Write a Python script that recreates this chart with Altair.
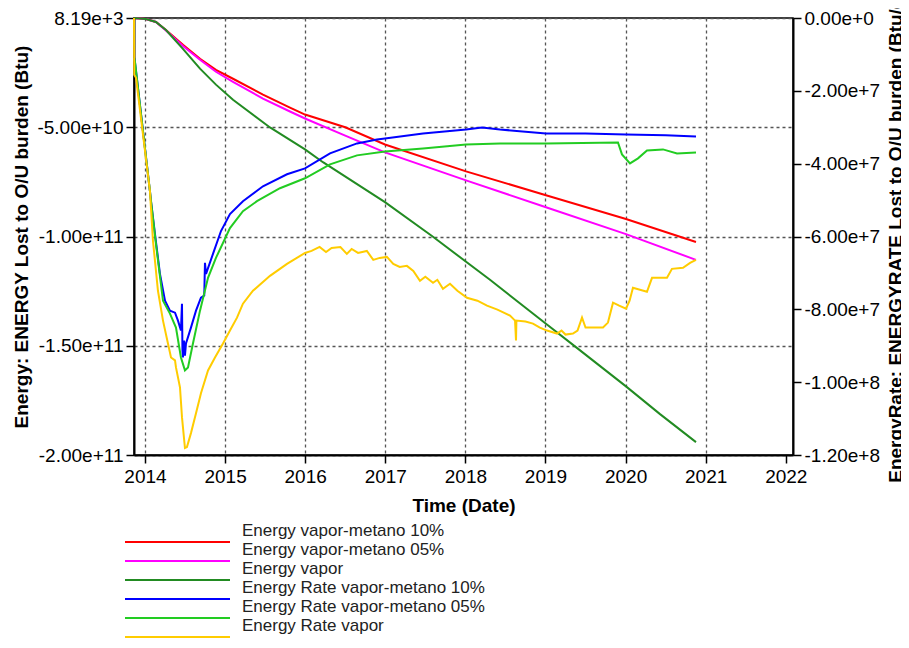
import altair as alt
import pandas as pd

FONT = "Liberation Sans"

names = [
    "Energy vapor-metano 10%",
    "Energy vapor-metano 05%",
    "Energy vapor",
    "Energy Rate vapor-metano 10%",
    "Energy Rate vapor-metano 05%",
    "Energy Rate vapor",
]
colors = ["#ff0000", "#ff00ff", "#228b22", "#0000ff", "#22cc22", "#ffcc00"]

# ---- cumulative energy (left axis, Btu), time in decimal years ----
red_t = [2013.863, 2014.012, 2014.137, 2014.262, 2014.474, 2014.687, 2014.886, 2015.099,
         2015.473, 2015.810, 2015.998, 2016.5, 2016.996, 2018.008, 2019.006, 2020.005, 2020.879]
red_v = [8190, -4.6e8, -1.8e9, -5.47e9, -1.23e10, -1.87e10, -2.37e10, -2.78e10,
         -3.51e10, -4.10e10, -4.42e10, -5.0e10, -5.79e10, -7.02e10, -8.11e10, -9.20e10, -1.025e11]

mag_t = [2013.863, 2014.012, 2014.137, 2014.262, 2014.474, 2014.687, 2014.886, 2015.099,
         2015.473, 2015.810, 2015.998, 2016.5, 2016.996, 2018.008, 2019.006, 2020.005, 2020.879]
mag_v = [8190, -4.6e8, -1.8e9, -5.69e9, -1.28e10, -1.91e10, -2.46e10, -2.92e10,
         -3.69e10, -4.28e10, -4.60e10, -5.38e10, -6.15e10, -7.43e10, -8.66e10, -9.89e10, -1.107e11]

dg_t = [2013.863, 2014.012, 2014.137, 2014.262, 2014.474, 2014.687, 2014.886, 2015.099,
        2015.561, 2015.998, 2016.222, 2016.996, 2017.583, 2018.307, 2019.006, 2019.368,
        2020.005, 2020.430, 2020.879]
dg_v = [8190, -4.6e8, -1.8e9, -5.5e9, -1.41e10, -2.32e10, -3.05e10, -3.74e10,
        -5.01e10, -6.01e10, -6.60e10, -8.43e10, -9.98e10, -1.198e11, -1.399e11, -1.503e11,
        -1.686e11, -1.813e11, -1.941e11]

# ---- energy rate (right axis, Btu/d) ----
blue_t = [2013.866, 2013.875, 2014.062, 2014.075, 2014.125, 2014.187, 2014.250, 2014.312,
          2014.375, 2014.412, 2014.449, 2014.462, 2014.468, 2014.474, 2014.487, 2014.499,
          2014.512, 2014.574, 2014.637, 2014.699, 2014.740, 2014.749, 2014.762, 2014.849,
          2014.949, 2015.061, 2015.223, 2015.473, 2015.773, 2015.998, 2016.310, 2016.647,
          2016.896, 2016.996, 2017.471, 2018.008, 2018.207, 2018.432, 2019.006, 2019.5,
          2020.005, 2020.5, 2020.879]
blue_v = [-1.10e7, -1.203e7, -4.756e7, -5.030e7, -5.932e7, -7.025e7, -7.763e7, -8.036e7,
          -8.091e7, -8.310e7, -8.583e7, -7.845e7, -9.13e7, -9.321e7, -8.857e7, -9.27e7,
          -8.939e7, -8.501e7, -8.036e7, -7.681e7, -7.62e7, -6.724e7, -7.025e7, -6.478e7,
          -5.850e7, -5.385e7, -5.030e7, -4.620e7, -4.292e7, -4.128e7, -3.718e7, -3.444e7,
          -3.335e7, -3.308e7, -3.171e7, -3.062e7, -3.007e7, -3.062e7, -3.171e7, -3.17e7,
          -3.198e7, -3.22e7, -3.253e7]

lg_t = [2013.866, 2013.875, 2014.062, 2014.075, 2014.137, 2014.225, 2014.312, 2014.387,
        2014.449, 2014.499, 2014.537, 2014.599, 2014.687, 2014.787, 2014.886, 2015.061,
        2015.223, 2015.398, 2015.685, 2015.998, 2016.310, 2016.647, 2016.996, 2017.471,
        2018.008, 2018.432, 2019.006, 2019.905, 2019.955, 2020.055, 2020.155, 2020.267,
        2020.467, 2020.642, 2020.879]
lg_v = [-1.10e7, -1.203e7, -4.756e7, -5.030e7, -6.205e7, -7.763e7, -8.118e7, -8.501e7,
        -9.321e7, -9.677e7, -9.595e7, -8.939e7, -8.036e7, -7.134e7, -6.588e7, -5.768e7,
        -5.303e7, -5.030e7, -4.674e7, -4.401e7, -4.018e7, -3.772e7, -3.663e7, -3.581e7,
        -3.471e7, -3.444e7, -3.444e7, -3.417e7, -3.745e7, -3.991e7, -3.854e7, -3.636e7,
        -3.608e7, -3.718e7, -3.690e7]

yel_t = [2013.863, 2013.866, 2013.888, 2014.062, 2014.100, 2014.162, 2014.225, 2014.287,
         2014.325, 2014.375, 2014.387, 2014.437, 2014.462, 2014.499, 2014.524, 2014.574,
         2014.637, 2014.699, 2014.787, 2014.874, 2014.974, 2015.061, 2015.149, 2015.223,
         2015.348, 2015.561, 2015.773, 2015.998, 2016.08, 2016.18, 2016.26, 2016.33,
         2016.44, 2016.52, 2016.58, 2016.66, 2016.77, 2016.85, 2016.93, 2017.02,
         2017.10, 2017.18, 2017.27, 2017.35, 2017.433, 2017.50, 2017.596, 2017.65,
         2017.720, 2017.808, 2017.9, 2018.020, 2018.15, 2018.270, 2018.4, 2018.557,
         2018.62, 2018.632, 2018.637, 2018.75, 2018.844, 2018.93, 2019.019, 2019.144,
         2019.2, 2019.25, 2019.343, 2019.40, 2019.456, 2019.50, 2019.556, 2019.718,
         2019.78, 2019.843, 2019.92, 2020.005, 2020.05, 2020.092, 2020.267, 2020.33,
         2020.517, 2020.579, 2020.717, 2020.805, 2020.879]
yel_v = [0, -1.56e7, -1.640e7, -4.756e7, -6.123e7, -7.490e7, -8.310e7, -8.939e7,
         -9.321e7, -9.403e7, -9.595e7, -1.0141e8, -1.0961e8, -1.1809e8, -1.1781e8, -1.1399e8,
         -1.0852e8, -1.0305e8, -9.677e7, -9.321e7, -8.939e7, -8.583e7, -8.228e7, -7.845e7,
         -7.490e7, -7.080e7, -6.752e7, -6.451e7, -6.396e7, -6.287e7, -6.424e7, -6.314e7,
         -6.287e7, -6.478e7, -6.342e7, -6.451e7, -6.396e7, -6.642e7, -6.588e7, -6.560e7,
         -6.752e7, -6.834e7, -6.806e7, -6.943e7, -7.216e7, -7.107e7, -7.271e7, -7.189e7,
         -7.435e7, -7.298e7, -7.490e7, -7.681e7, -7.763e7, -7.900e7, -8.009e7, -8.173e7,
         -8.310e7, -8.857e7, -8.310e7, -8.337e7, -8.392e7, -8.501e7, -8.583e7, -8.665e7,
         -8.583e7, -8.693e7, -8.665e7, -8.583e7, -8.228e7, -8.501e7, -8.501e7, -8.501e7,
         -8.364e7, -7.818e7, -7.900e7, -7.982e7, -7.763e7, -7.408e7, -7.517e7, -7.134e7,
         -7.134e7, -6.888e7, -6.861e7, -6.724e7, -6.642e7]

left_ticks = [8190, -5e10, -1e11, -1.5e11, -2e11]
right_ticks = [0, -2e7, -4e7, -6e7, -8e7, -1e8, -1.2e8]
year_ticks = [2014, 2015, 2016, 2017, 2018, 2019, 2020, 2021, 2022]


def frame(name, t, v):
    return pd.DataFrame({"t": t, "v": v, "series": name})


energy = pd.concat([frame(names[0], red_t, red_v),
                    frame(names[1], mag_t, mag_v),
                    frame(names[2], dg_t, dg_v)])
rate = pd.concat([frame(names[3], blue_t, blue_v),
                  frame(names[4], lg_t, lg_v),
                  frame(names[5], yel_t, yel_v)])
legend_df = pd.DataFrame({"idx": list(range(6)), "name": names, "col": colors})

fmt = "replace(format(datum.value, '.2e'), '\u2212', '-')"

color = alt.Color("series:N", scale=alt.Scale(domain=names, range=colors), legend=None)

x_axis = alt.Axis(values=year_ticks, format="d", title="Time (Date)", grid=True,
                  gridDash=[3, 3], gridColor="#555555", gridWidth=1.3,
                  gridOpacity={"condition": {"test": "datum.value > 2021.5", "value": 0}, "value": 1},
                  labelPadding=4, titlePadding=10)
x_scale = alt.Scale(domain=[2013.863, 2022.09], nice=False, zero=False)
x_enc = alt.X("t:Q", scale=x_scale, axis=x_axis)

left = alt.Chart(energy).mark_line(strokeWidth=2).encode(
    x=x_enc,
    y=alt.Y("v:Q",
            scale=alt.Scale(domain=[-2e11, 8190], nice=False, zero=False),
            axis=alt.Axis(orient="left", values=left_ticks, labelExpr=fmt,
                          title="Energy: ENERGY Lost to O/U burden (Btu)",
                          grid=True, gridDash=[3, 3], gridColor="#555555", gridWidth=1.3,
                          labelPadding=3, titlePadding=5)),
    color=color,
)

right = alt.Chart(rate).mark_line(strokeWidth=2).encode(
    x=x_enc,
    y=alt.Y("v:Q",
            scale=alt.Scale(domain=[-1.2e8, 0], nice=False, zero=False),
            axis=alt.Axis(orient="right", values=right_ticks, labelExpr=fmt,
                          title="EnergyRate: ENERGYRATE Lost to O/U burden (Btu/d)",
                          titleAngle=270, titleBaseline="top",
                          grid=False, labelPadding=3, titlePadding=7)),
    color=color,
)

leg_y = alt.Y("idx:Q", scale=alt.Scale(domain=[0, 5], range=[524, 619], nice=False, zero=False), axis=None)

leg_rules = alt.Chart(legend_df).mark_rule(strokeWidth=2.2).encode(
    x=alt.value(-9), x2=alt.value(96), y=leg_y,
    color=alt.Color("col:N", scale=None, legend=None),
)
leg_text = alt.Chart(legend_df).mark_text(
    align="left", baseline="middle", dy=-11, fontSize=17, font=FONT, color="#222222"
).encode(x=alt.value(108), y=leg_y, text="name:N")

chart = (
    alt.layer(left, right, leg_rules, leg_text)
    .resolve_scale(y="independent", color="independent")
    .properties(
        width=659, height=437,
        autosize=alt.AutoSizeParams(type="none"),
        padding={"left": 126, "top": 10, "right": 108, "bottom": 184},
        background="white",
    )
    .configure_view(stroke="black", strokeWidth=1.5)
    .configure_axis(
        labelFont=FONT, labelFontSize=19, labelColor="black",
        titleFont=FONT, titleFontSize=19, titleFontWeight="bold", titleColor="black",
        domainColor="black", domainWidth=2, tickColor="black", tickWidth=1.5, tickSize=8,
    )
)

chart.save("out.html", embed_options={"renderer": "svg", "actions": False})
